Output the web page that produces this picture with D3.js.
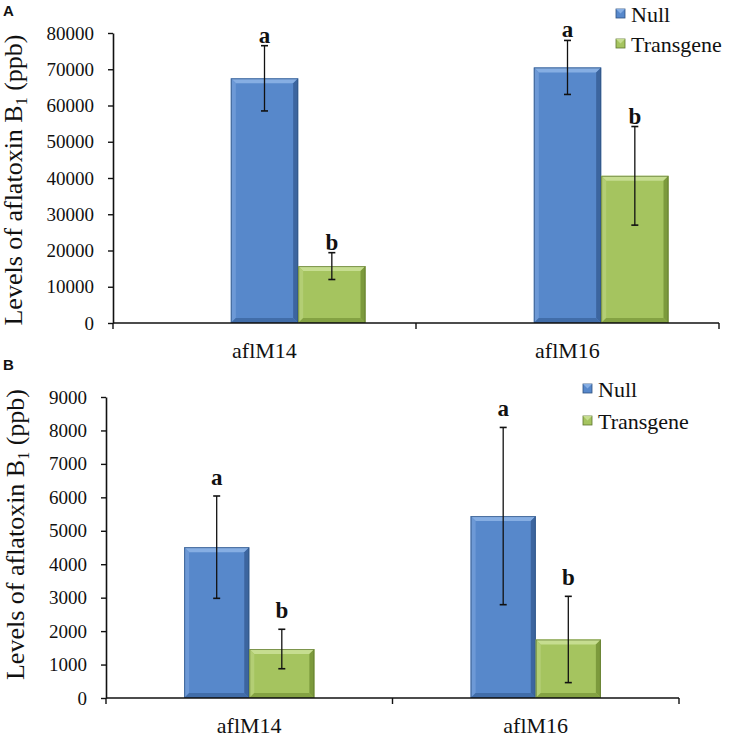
<!DOCTYPE html>
<html>
<head>
<meta charset="utf-8">
<script src="https://cdn.jsdelivr.net/npm/d3@7"></script>
<style>
  html, body { margin: 0; padding: 0; background: #fff; }
  svg { display: block; }
  text.serif { font-family: "Liberation Serif", "Times New Roman", serif; fill: #111; }
  text.sans { font-family: "Liberation Sans", Arial, sans-serif; fill: #111; }
</style>
</head>
<body>
<svg id="chart" width="731" height="737"></svg>
<script>
// ---------------- DATA ----------------
const categories = ["aflM14", "aflM16"];
const seriesNames = ["Null", "Transgene"];

// Panel A (ppb)
const aNull      = [67500, 70500];
const aNullErr   = [9000, 7450];
const aTrans     = [15700, 40600];
const aTransErr  = [3700, 13600];
const aTicks     = [0, 10000, 20000, 30000, 40000, 50000, 60000, 70000, 80000];

// Panel B (ppb)
const bNull      = [4510, 5440];
const bNullErr   = [1530, 2650];
const bTrans     = [1465, 1750];
const bTransErr  = [590, 1290];
const bTicks     = [0, 1000, 2000, 3000, 4000, 5000, 6000, 7000, 8000, 9000];

// significance letters
const lettersNull  = ["a", "a"];
const lettersTrans = ["b", "b"];

const panelLabels = ["A", "B"];
const yTitle = "Levels of aflatoxin B";
const yTitleSub = "1";
const yTitleEnd = " (ppb)";

// ---------------- STYLE ----------------
const colors = {
  Null:      { base: "#5788CB", top: "#86AEE3", left: "#6D99D6", right: "#3C659F", bottom: "#416DA9", edge: "#2F527F" },
  Transgene: { base: "#A5C45F", top: "#C6DD90", left: "#B3CE74", right: "#7C9A3C", bottom: "#84A243", edge: "#5E7630" }
};

const svg = d3.select("#chart");

function bevelBar(g, x, y, w, h, c) {
  const b = Math.min(5, h / 2, w / 2);
  const bg = g.append("g");
  bg.append("rect").attr("x", x).attr("y", y).attr("width", w).attr("height", h).attr("fill", c.base);
  bg.append("polygon").attr("points", [[x, y], [x + w, y], [x + w - b, y + b], [x + b, y + b]].join(" ")).attr("fill", c.top);
  bg.append("polygon").attr("points", [[x, y], [x + b, y + b], [x + b, y + h - b], [x, y + h]].join(" ")).attr("fill", c.left);
  bg.append("polygon").attr("points", [[x + w, y], [x + w, y + h], [x + w - b, y + h - b], [x + w - b, y + b]].join(" ")).attr("fill", c.right);
  bg.append("polygon").attr("points", [[x, y + h], [x + w, y + h], [x + w - b, y + h - b], [x + b, y + h - b]].join(" ")).attr("fill", c.bottom);
  bg.append("rect").attr("x", x + 0.5).attr("y", y + 0.5).attr("width", w - 1).attr("height", h - 1)
    .attr("fill", "none").attr("stroke", c.edge).attr("stroke-width", 1).attr("stroke-opacity", 0.7);
}

function drawPanel(cfg) {
  const g = svg.append("g");
  const y = d3.scaleLinear().domain([0, d3.max(cfg.ticks)]).range([cfg.bottom, cfg.top]);
  const x0 = d3.scaleBand().domain(categories).range([cfg.left, cfg.right]).padding(0);
  const x1 = d3.scaleBand().domain(cfg.slots).range([0, x0.bandwidth()])
    .paddingInner(0).paddingOuter(cfg.outerPad);

  // y axis
  const yAxis = d3.axisLeft(y).tickValues(cfg.ticks).tickFormat(d3.format("d"))
    .tickSize(5).tickPadding(cfg.tickPad).tickSizeOuter(0);
  const ya = g.append("g").attr("transform", `translate(${cfg.left},0)`).call(yAxis);
  ya.select(".domain").attr("stroke", "#111").attr("stroke-width", 1.6);
  ya.selectAll(".tick line").attr("stroke", "#111").attr("stroke-width", 1.4);
  ya.selectAll(".tick text").attr("class", "serif").attr("font-size", 19);

  // bars
  const series = [
    { name: "Null", vals: cfg.nullV, errs: cfg.nullE, letters: lettersNull },
    { name: "Transgene", vals: cfg.transV, errs: cfg.transE, letters: lettersTrans }
  ];
  const barsG = g.append("g");
  series.forEach(s => {
    categories.forEach((cat, i) => {
      const bx = x0(cat) + x1(s.name);
      const bw = x1.bandwidth();
      const by = y(s.vals[i]);
      bevelBar(barsG, bx, by, bw, y(0) - by, colors[s.name]);
    });
  });

  // x axis
  const xa = g.append("g").attr("transform", `translate(0,${cfg.bottom})`);
  xa.append("line").attr("x1", cfg.left).attr("x2", cfg.right).attr("stroke", "#111").attr("stroke-width", 1.6);
  const bounds = [cfg.left, ...categories.map(c => x0(c) + x0.bandwidth())];
  xa.selectAll("line.tk").data(bounds).join("line").attr("class", "tk")
    .attr("x1", d => d).attr("x2", d => d).attr("y1", 0).attr("y2", 6)
    .attr("stroke", "#111").attr("stroke-width", 1.4);
  xa.selectAll("text.cat").data(categories).join("text").attr("class", "cat serif")
    .attr("x", d => x0(d) + x0.bandwidth() / 2).attr("y", 35)
    .attr("text-anchor", "middle").attr("font-size", 22).text(d => d);

  // error bars + letters
  const errG = g.append("g");
  series.forEach(s => {
    categories.forEach((cat, i) => {
      const cx = x0(cat) + x1(s.name) + x1.bandwidth() / 2;
      const yt = y(s.vals[i] + s.errs[i]);
      const yb = y(s.vals[i] - s.errs[i]);
      errG.append("line").attr("x1", cx).attr("x2", cx).attr("y1", yt).attr("y2", yb).attr("stroke", "#111").attr("stroke-width", 1.3);
      [yt, yb].forEach(yy => errG.append("line").attr("x1", cx - 3.5).attr("x2", cx + 3.5).attr("y1", yy).attr("y2", yy)
        .attr("stroke", "#111").attr("stroke-width", 1.6));
      errG.append("text").attr("class", "serif").attr("x", cx).attr("y", yt - cfg.letterGap)
        .attr("text-anchor", "middle").attr("font-size", 23).attr("font-weight", "bold").text(s.letters[i]);
    });
  });

  // y title
  const yt = g.append("text").attr("class", "serif")
    .attr("transform", `translate(${cfg.titleX},${(cfg.top + cfg.bottom) / 2 + cfg.titleShift}) rotate(-90)`)
    .attr("text-anchor", "middle").attr("font-size", 26);
  yt.append("tspan").text(yTitle);
  yt.append("tspan").attr("font-size", 16).attr("dy", 5).text(yTitleSub);
  yt.append("tspan").attr("dy", -5).text(yTitleEnd);

  // legend
  const lg = g.append("g");
  seriesNames.forEach((n, i) => {
    const yy = cfg.legY + i * cfg.legStep;
    const c = colors[n];
    lg.append("rect").attr("x", cfg.legX).attr("y", yy - 13).attr("width", 9).attr("height", 9).attr("fill", c.base)
      .attr("stroke", c.edge).attr("stroke-width", 0.8);
    lg.append("polygon").attr("points", [[cfg.legX, yy - 13], [cfg.legX + 9, yy - 13], [cfg.legX + 4.5, yy - 8.5]].join(" ")).attr("fill", c.top);
    lg.append("text").attr("class", "serif").attr("x", cfg.legX + 15).attr("y", yy).attr("font-size", 22).text(n);
  });

  // panel label
  g.append("text").attr("class", "sans").attr("x", 3).attr("y", cfg.panelY)
    .attr("font-weight", "bold").attr("font-size", 15).text(cfg.panel);
}

drawPanel({
  panel: panelLabels[0], panelY: 16,
  left: 113, right: 719, top: 33, bottom: 323,
  ticks: aTicks, tickPad: 14,
  slots: ["(blank)", "Null", "Transgene"], outerPad: 0.75,
  nullV: aNull, nullE: aNullErr, transV: aTrans, transE: aTransErr,
  letterGap: 3,
  titleX: 22, titleShift: 2,
  legX: 616, legY: 22, legStep: 30
});

drawPanel({
  panel: panelLabels[1], panelY: 370,
  left: 106, right: 679, top: 397, bottom: 698,
  ticks: bTicks, tickPad: 14,
  slots: ["Null", "Transgene"], outerPad: 1.2,
  nullV: bNull, nullE: bNullErr, transV: bTrans, transE: bTransErr,
  letterGap: 11,
  titleX: 24, titleShift: -13,
  legX: 583, legY: 397, legStep: 32
});
</script>
</body>
</html>
